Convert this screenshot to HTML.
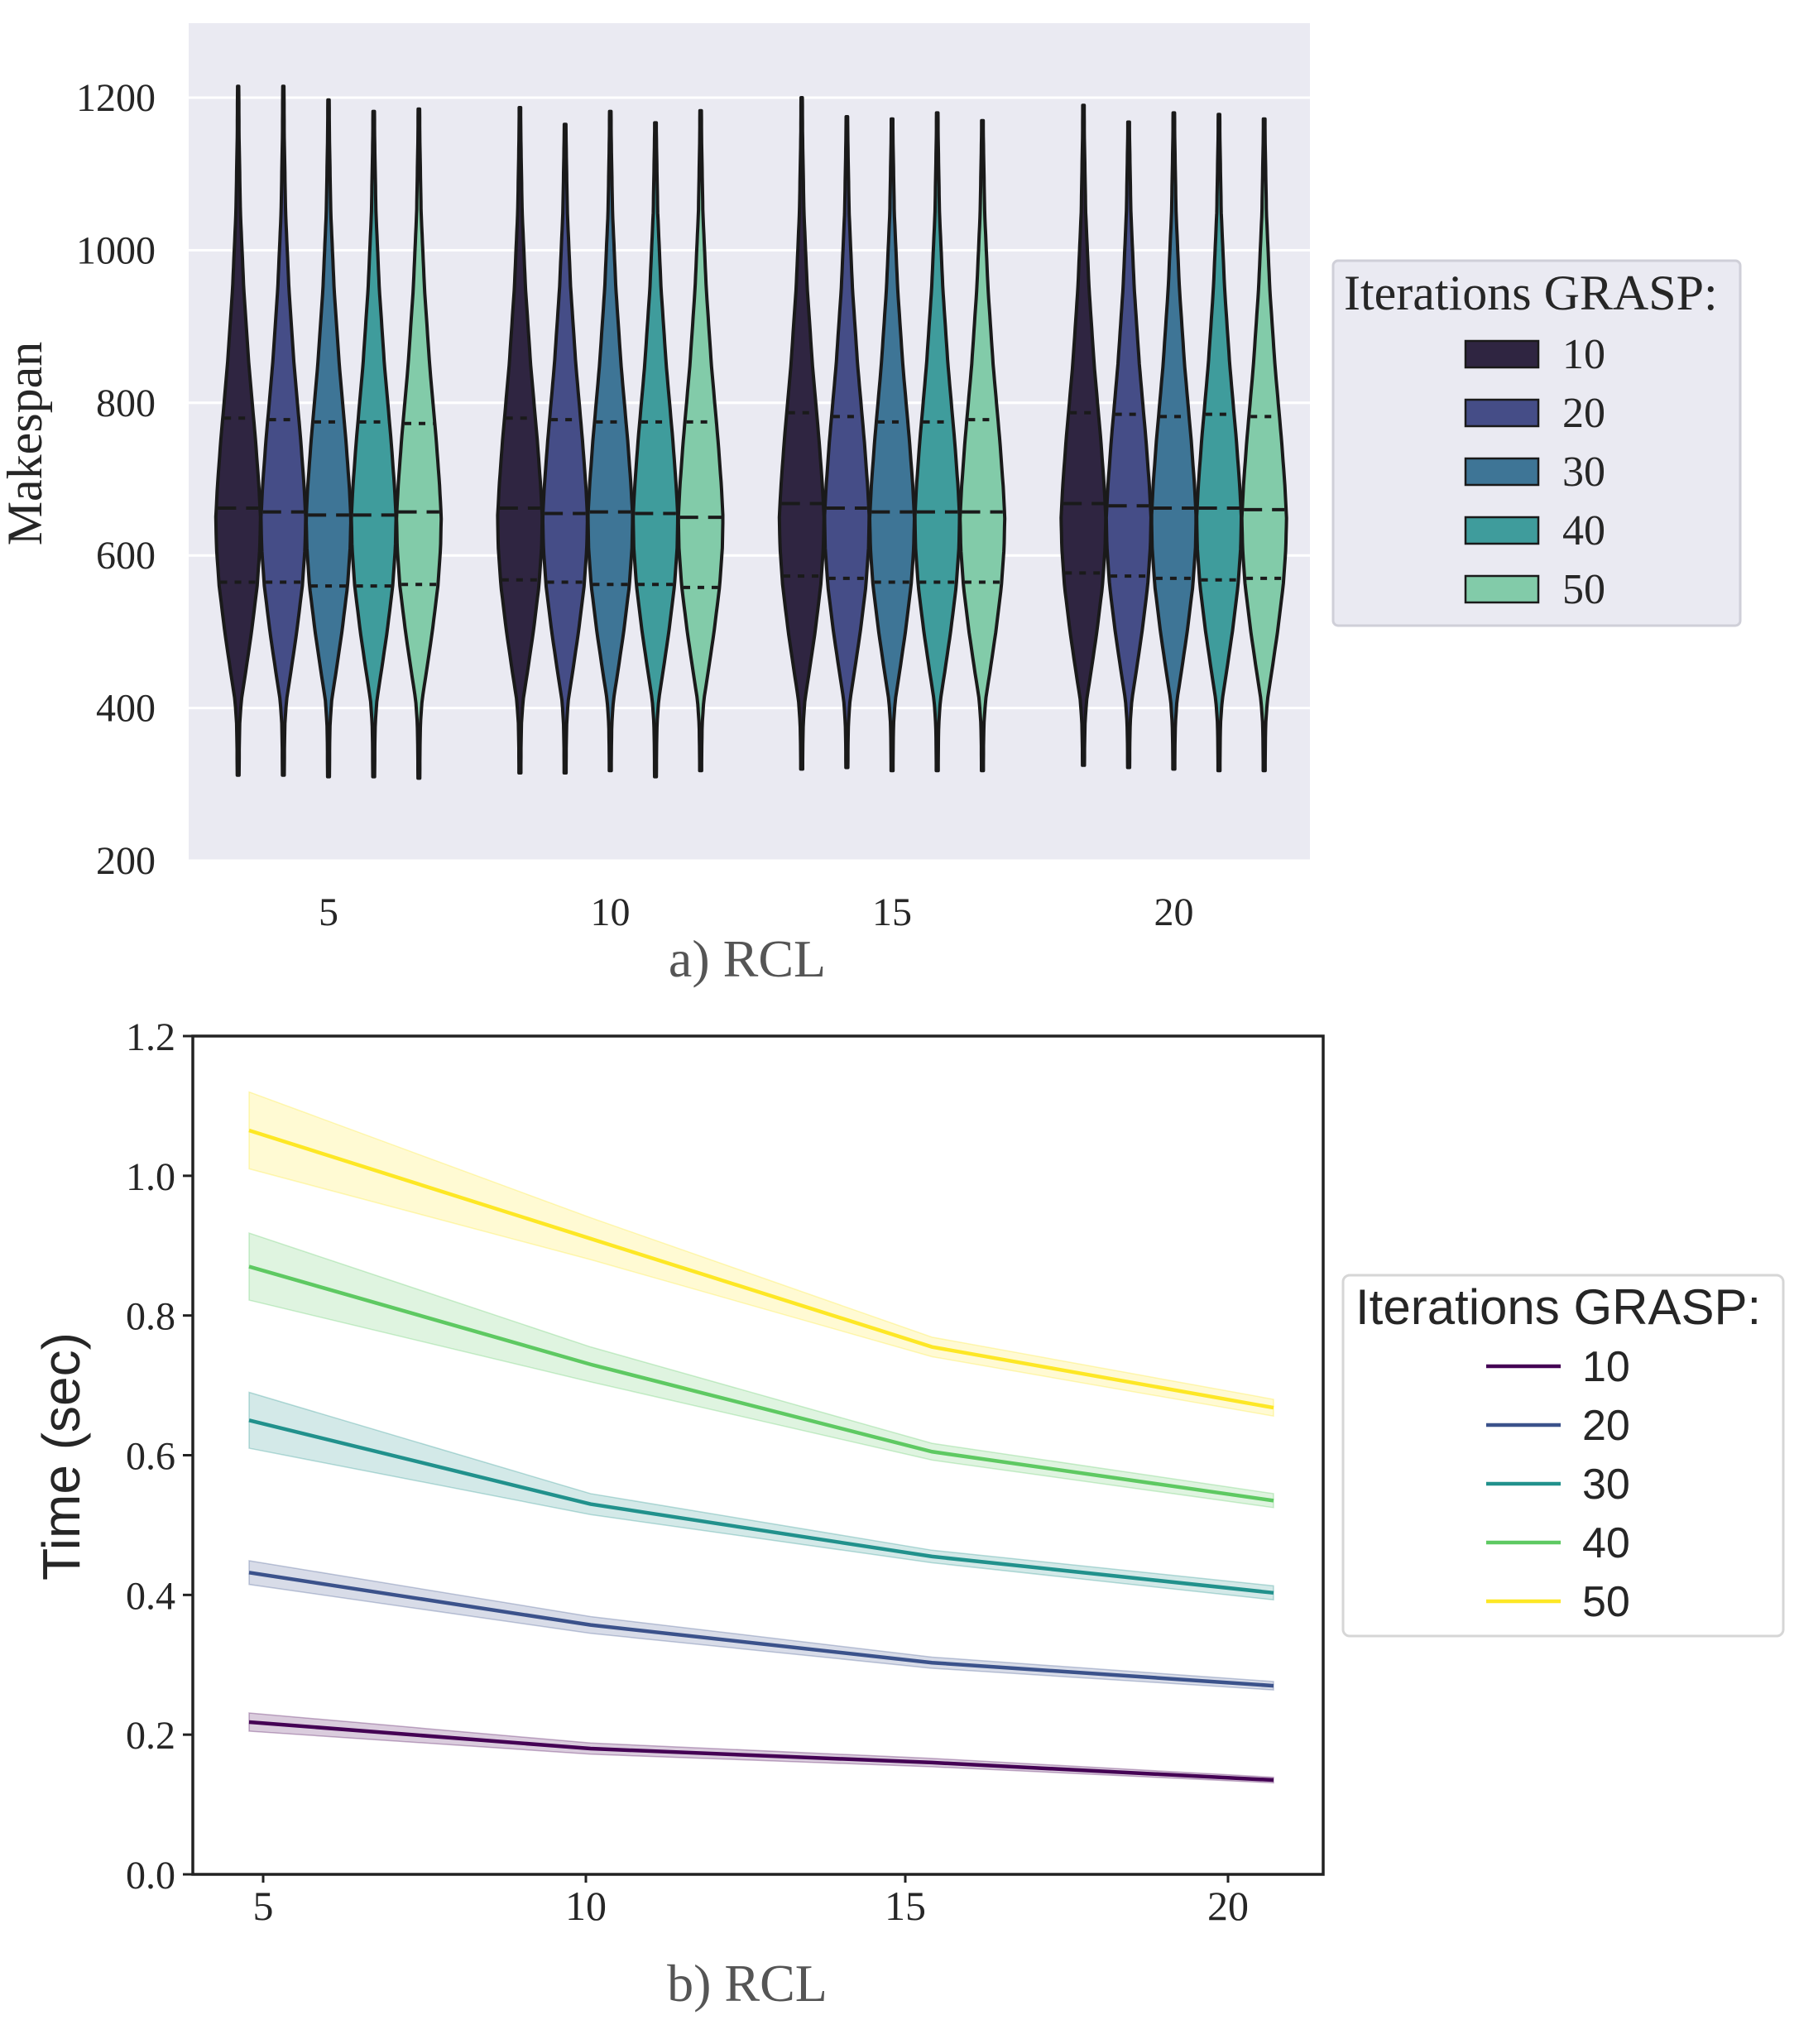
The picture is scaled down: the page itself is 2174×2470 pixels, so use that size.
<!DOCTYPE html>
<html><head><meta charset="utf-8">
<style>
body{margin:0;background:#fff;}
svg{display:block;}
.serif{font-family:"Liberation Serif",serif;}
.sans{font-family:"Liberation Sans",sans-serif;}
</style></head>
<body>
<svg id="chart" width="2174" height="2470" viewBox="0 0 2174 2470" xmlns="http://www.w3.org/2000/svg">
<g id="topChart"></g>
<g id="bottomChart"></g>
</svg>
<script>
const NS="http://www.w3.org/2000/svg";
// ---------- Violin chart data ----------
const rclCats=["5","10","15","20"];
const iterLabels=["10","20","30","40","50"];
const violinColors=["#2f2541","#454d87","#3e7596","#3f9c9c","#82cba9"];
const vMax=[[1215,1215,1197,1182,1185],[1187,1165,1182,1167,1183],[1200,1175,1172,1180,1170],[1190,1168,1180,1178,1172]];
const vMin=[[312,312,310,310,308],[315,315,318,310,318],[320,322,318,318,318],[325,322,320,318,318]];
const vMed=[[662,657,653,653,657],[662,655,657,655,650],[668,662,657,657,657],[668,665,662,662,660]];
const vQ1=[[565,565,560,560,562],[568,565,562,562,558],[573,570,565,565,565],[577,573,570,568,570]];
const vQ3=[[780,778,775,775,773],[780,778,775,775,775],[787,782,775,775,778],[787,785,782,785,782]];
const densVals=[1250,1150,1050,950,850,750,690,650,610,560,500,450,410,380,350,300];
const densW=[0.02,0.04,0.1,0.25,0.48,0.78,0.93,1.0,0.97,0.85,0.6,0.35,0.14,0.07,0.05,0.04];
const topTicks=[200,400,600,800,1000,1200];

// ---------- Line chart data ----------
const lineX=[5,10,15,20];
const lineTickLabels=["5","10","15","20"];
const lineColors=["#440154","#3b528b","#21918c","#5ec962","#fde725"];
const sMean=[[0.218,0.18,0.16,0.135],[0.432,0.357,0.303,0.27],[0.65,0.53,0.455,0.403],[0.87,0.73,0.605,0.535],[1.065,0.91,0.755,0.668]];
const sCI=[[0.013,0.008,0.006,0.004],[0.017,0.012,0.008,0.006],[0.04,0.015,0.009,0.01],[0.048,0.025,0.012,0.01],[0.055,0.03,0.014,0.012]];
const botTicks=[0.0,0.2,0.4,0.6,0.8,1.0,1.2];

function mk(tag,attrs,parent,text){const e=document.createElementNS(NS,tag);for(const k in attrs)e.setAttribute(k,attrs[k]);if(text!==undefined)e.textContent=text;parent.appendChild(e);return e;}

// ---- top chart ----
const topG=document.getElementById('topChart');
const tL=228,tR=1583,tT=28,tB=1040;
const ty=v=>tB-(v-200)*0.922;
const groupX=i=>397+i*340.5;
const violinX=(g,j)=>groupX(g)+(j-2)*54.6;
const bg=mk('rect',{x:tL,y:tT,width:tR-tL,height:tB-tT,fill:'#eaeaf2'},topG);


topTicks.forEach(t=>{
  const gl=mk('line',{x1:tL,x2:tR,y1:ty(t),y2:ty(t),stroke:'#fff','stroke-width':3},topG);
  
  
  const tx=mk('text',{x:188,y:ty(t)+16,'text-anchor':'end','font-size':48,fill:'#262626',class:'serif'},topG,String(t));
  
  
});
function dens(v){
  for(let i=0;i<densVals.length-1;i++){
    if(v<=densVals[i]&&v>=densVals[i+1]){const f=(densVals[i]-v)/(densVals[i]-densVals[i+1]);return densW[i]+(densW[i+1]-densW[i])*f;}
  }
  return 0.02;
}
const HW=27;
rclCats.forEach((c,g)=>{
  iterLabels.forEach((lab,j)=>{
    const cx=violinX(g,j);const mx=vMax[g][j],mn=vMin[g][j];
    const left=[],right=[];
    const N=80;
    for(let k=0;k<=N;k++){const v=mx-(mx-mn)*k/N;let w=dens(v)*HW;if(k===0||k===N)w=Math.min(w,2);right.push([cx+w,ty(v)]);left.push([cx-w,ty(v)]);}
    const pts=right.concat(left.reverse());
    const d='M'+pts.map(p=>p[0].toFixed(1)+','+p[1].toFixed(1)).join('L')+'Z';
    const p=mk('path',{d:d,fill:violinColors[j],stroke:'#1a1a1a','stroke-width':4,'stroke-linejoin':'round'},topG);
    
    
    [[vQ1[g][j],'8,9'],[vMed[g][j],'22,12'],[vQ3[g][j],'8,9']].forEach(([q,da],qi)=>{
      const w=dens(q)*HW-2;
      const l=mk('line',{x1:cx-w,x2:cx+w,y1:ty(q),y2:ty(q),stroke:'#1a1a1a','stroke-width':4,'stroke-dasharray':da},topG);
      
      
    });
  });
  const xl=mk('text',{x:groupX(g),y:1118,'text-anchor':'middle','font-size':48,fill:'#262626',class:'serif'},topG,c);
  
  
});
const yt=mk('text',{x:0,y:0,'text-anchor':'middle','font-size':60,fill:'#262626',class:'serif',transform:'translate(50,536) rotate(-90)'},topG,'Makespan');


const xt=mk('text',{x:903,y:1180,'text-anchor':'middle','font-size':64,fill:'#555',class:'serif'},topG,'a) RCL');


const lg=mk('g',{},topG);


mk('rect',{x:1611,y:315,width:492,height:441,rx:6,fill:'#eaeaf2',stroke:'#cfcfd8','stroke-width':3},lg);
const lgt=mk('text',{x:1624,y:374,'font-size':60,fill:'#262626',class:'serif'},lg,'Iterations GRASP:');


iterLabels.forEach((lab,j)=>{
  const yy=428+j*71;
  const e=mk('g',{},lg);
  
  
  mk('rect',{x:1771,y:yy-16,width:88,height:32,fill:violinColors[j],stroke:'#1a1a1a','stroke-width':2.5},e);
  mk('text',{x:1888,y:yy+17,'font-size':52,fill:'#262626',class:'serif'},e,lab);
});

// ---- bottom chart ----
const botG=document.getElementById('bottomChart');
const bL=233,bR=1599,bT=1252,bB=2265;
const by=v=>bB-v*(bB-bT)/1.2;
const bx=x=>301+(x-5)*(1539-301)/15;
const labelX=[318,708,1094,1484];
mk('rect',{x:bL,y:bT,width:bR-bL,height:bB-bT,fill:'#fff'},botG);
botTicks.forEach(t=>{
  const tk=mk('line',{x1:bL-12,x2:bL,y1:by(t),y2:by(t),stroke:'#222','stroke-width':3},botG);
  
  
  const tx=mk('text',{x:212,y:by(t)+17,'text-anchor':'end','font-size':48,fill:'#262626',class:'serif'},botG,t.toFixed(1));
  
  
});
lineTickLabels.forEach((lab,i)=>{
  const tk=mk('line',{x1:labelX[i],x2:labelX[i],y1:bB,y2:bB+10,stroke:'#222','stroke-width':3},botG);
  
  
  const tx=mk('text',{x:labelX[i],y:2320,'text-anchor':'middle','font-size':50,fill:'#262626',class:'serif'},botG,lab);
  
  
});
sMean.forEach((s,k)=>{
  const up=s.map((m,i)=>[bx(lineX[i]),by(m+sCI[k][i])]);
  const lo=s.map((m,i)=>[bx(lineX[i]),by(m-sCI[k][i])]).reverse();
  const band=mk('path',{d:'M'+up.concat(lo).map(p=>p.join(',')).join('L')+'Z',fill:lineColors[k],'fill-opacity':0.2,stroke:lineColors[k],'stroke-opacity':0.3,'stroke-width':1.5},botG);
  
  
  const ln=mk('polyline',{points:s.map((m,i)=>bx(lineX[i])+','+by(m)).join(' '),fill:'none',stroke:lineColors[k],'stroke-width':4.5},botG);
  
  
});
const fr=mk('rect',{x:bL,y:bT,width:bR-bL,height:bB-bT,fill:'none',stroke:'#222','stroke-width':3.5},botG);


const yt2=mk('text',{x:0,y:0,'text-anchor':'middle','font-size':64,fill:'#262626',class:'sans',transform:'translate(96,1760) rotate(-90)'},botG,'Time (sec)');


const xt2=mk('text',{x:903,y:2418,'text-anchor':'middle','font-size':64,fill:'#555',class:'serif'},botG,'b) RCL');


const lg2=mk('g',{},botG);


mk('rect',{x:1623,y:1541,width:532,height:436,rx:8,fill:'#fff',stroke:'#d6d6d6','stroke-width':3},lg2);
const lgt2=mk('text',{x:1638,y:1600,'font-size':60,fill:'#262626',class:'sans'},lg2,'Iterations GRASP:');


iterLabels.forEach((lab,j)=>{
  const yy=1651+j*71;
  const e=mk('g',{},lg2);
  
  
  mk('line',{x1:1796,x2:1886,y1:yy,y2:yy,stroke:lineColors[j],'stroke-width':4.5},e);
  mk('text',{x:1912,y:yy+18,'font-size':52,fill:'#262626',class:'sans'},e,lab);
});
</script>
</body></html>
